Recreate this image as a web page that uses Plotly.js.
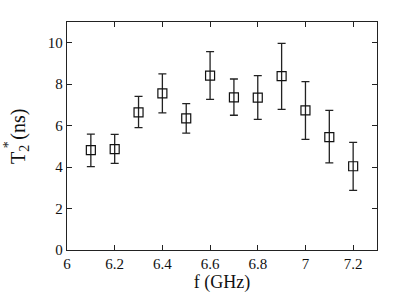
<!DOCTYPE html>
<html>
<head>
<meta charset="utf-8">
<script src="https://cdn.plot.ly/plotly-3.0.1.min.js"></script>
<style>html,body{margin:0;padding:0;background:#fff;}#chart{width:416px;height:301px;}</style>
</head>
<body>
<div id="chart"></div>
<script>
var freq = [6.1, 6.2, 6.3, 6.4, 6.5, 6.6, 6.7, 6.8, 6.9, 7.0, 7.1, 7.2];
var t2 = [4.82, 4.87, 6.64, 7.56, 6.35, 8.41, 7.36, 7.35, 8.39, 6.74, 5.45, 4.04];
var errUp = [0.77, 0.71, 0.77, 0.94, 0.71, 1.16, 0.89, 1.06, 1.58, 1.38, 1.29, 1.15];
var errDown = [0.80, 0.69, 0.74, 0.94, 0.71, 1.14, 0.86, 1.05, 1.61, 1.40, 1.25, 1.16];
var xTicks = [6, 6.2, 6.4, 6.6, 6.8, 7, 7.2];
var xTickText = ['6', '6.2', '6.4', '6.6', '6.8', '7', '7.2'];
var yTicks = [0, 2, 4, 6, 8, 10];
var yTitleMain = 'T<sub>2</sub> (ns)';
var yTitleStar = '*';

var trace = {
  x: freq, y: t2, type: 'scatter', mode: 'markers',
  marker: {symbol: 'square-open', size: 9, color: '#111', line: {width: 1.2, color: '#111'}},
  error_y: {type: 'data', symmetric: false, array: errUp, arrayminus: errDown, color: '#222', thickness: 1.3, width: 4},
  hoverinfo: 'none'
};
var fam = 'Liberation Serif, Times New Roman, serif';
var layout = {
  width: 416, height: 301,
  margin: {l: 67, r: 39, t: 22, b: 51},
  paper_bgcolor: '#fff', plot_bgcolor: '#fff',
  showlegend: false,
  font: {family: fam, color: '#111'},
  xaxis: {
    range: [6, 7.3], tickvals: xTicks, ticktext: xTickText,
    ticks: 'inside', ticklen: 5, tickwidth: 1, tickcolor: '#222',
    showline: true, linecolor: '#222', linewidth: 1.2, mirror: 'ticks',
    showgrid: false, zeroline: false,
    tickfont: {family: fam, size: 15, color: '#111'},
    title: {text: 'f (GHz)', font: {family: fam, size: 18, color: '#111'}, standoff: 2}
  },
  yaxis: {
    range: [0, 11], tickvals: yTicks,
    ticks: 'inside', ticklen: 5, tickwidth: 1, tickcolor: '#222',
    showline: true, linecolor: '#222', linewidth: 1.2, mirror: 'ticks',
    showgrid: false, zeroline: false,
    tickfont: {family: fam, size: 15, color: '#111'},
    title: {text: ''}
  },
  annotations: [
    {text: yTitleMain, xref: 'paper', yref: 'paper', x: -0.155, y: 0.5, xanchor: 'center', yanchor: 'middle',
     textangle: -90, showarrow: false, font: {family: fam, size: 20, color: '#111'}},
    {text: yTitleStar, xref: 'paper', yref: 'paper', x: -0.19, y: 0.46, xanchor: 'center', yanchor: 'middle',
     textangle: -90, showarrow: false, font: {family: fam, size: 14, color: '#111'}}
  ]
};
Plotly.newPlot('chart', [trace], layout, {displayModeBar: false, staticPlot: true});
</script>
</body>
</html>
